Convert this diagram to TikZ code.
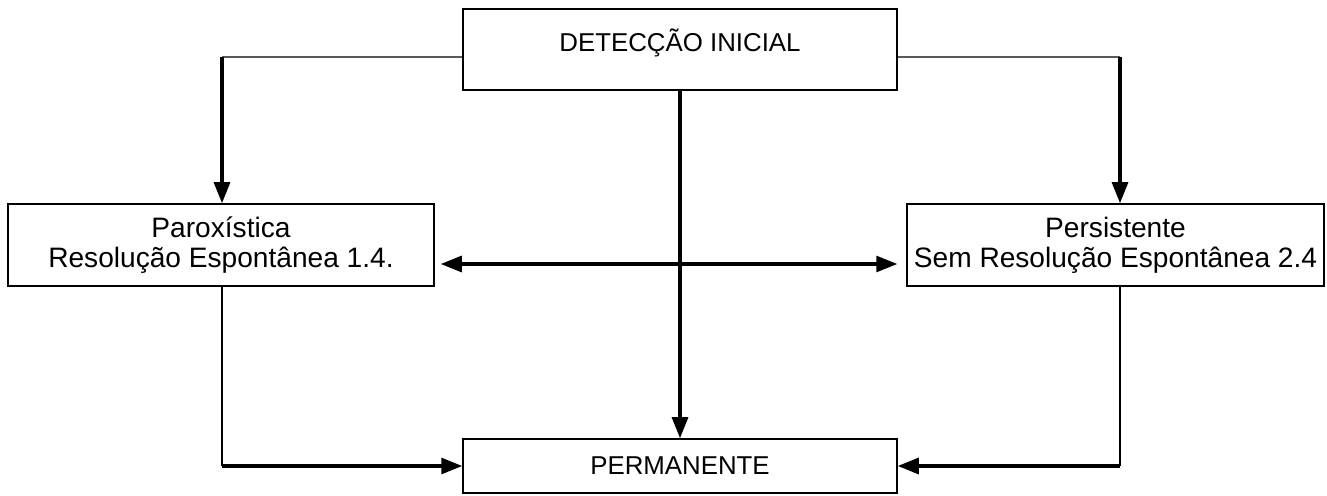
\documentclass[tikz,border=0pt]{standalone}
\usepackage{fontspec}
\setmainfont{Liberation Sans}
\usetikzlibrary{arrows.meta}

\begin{document}
\begin{tikzpicture}[x=0.02cm, y=-0.02cm,
        box/.style={draw, line width=0.8pt, inner sep=0pt, align=center},
        link/.style={line width=0.8pt},
        arr/.style={line width=2pt, -{Triangle[length=12pt, width=9pt]}},
        darr/.style={line width=2pt, {Triangle[length=12pt, width=9pt]}-{Triangle[length=12pt, width=9pt]}}]
        \useasboundingbox (0,0) rectangle (1327,496);

        % Boxes
        \node[box, minimum width=8.68cm, minimum height=1.62cm, text depth=0.38cm,
            font=\fontsize{14.7}{16.5}\selectfont] (detec) at (680,49.5) {DETEC\c{C}\~AO INICIAL};
        \node[box, minimum width=8.52cm, minimum height=1.64cm,
            font=\fontsize{16}{17}\selectfont] (parox) at (221,245) {Parox\'istica\\Resolu\c{c}\~ao Espont\^anea 1.4.};
        \node[box, minimum width=8.34cm, minimum height=1.64cm,
            font=\fontsize{16}{17}\selectfont] (persis) at (1115.5,245) {Persistente\\Sem Resolu\c{c}\~ao Espont\^anea 2.4};
        \node[box, minimum width=8.68cm, minimum height=1.08cm,
            font=\fontsize{14.7}{16.5}\selectfont] (perma) at (680,466) {PERMANENTE};

        % Bends
        \coordinate (lbend) at (222,57);
        \coordinate (rbend) at (1120,57);
        \coordinate (lfoot) at (222,466);
        \coordinate (rfoot) at (1120,466);

        % From the initial detection
        \draw[link] ([yshift=-0.15cm]detec.west) -- (lbend);
        \draw[arr] (lbend) -- (lbend |- parox.north);
        \draw[link] ([yshift=-0.15cm]detec.east) -- (rbend);
        \draw[arr] (rbend) -- (rbend |- persis.north);
        \draw[arr] (detec.south) -- (perma.north);

        % Between the two
        \draw[darr, shorten <=0.12cm, shorten >=0.18cm] ([yshift=-0.38cm]parox.east) -- ([yshift=-0.38cm]persis.west);

        % Into permanent
        \draw[link] (lfoot |- parox.south) -- (lfoot);
        \draw[arr] (lfoot) -- (lfoot -| perma.west);
        \draw[link] (rfoot |- persis.south) -- (rfoot);
        \draw[arr] (rfoot) -- (rfoot -| perma.east);
\end{tikzpicture}
\end{document}
